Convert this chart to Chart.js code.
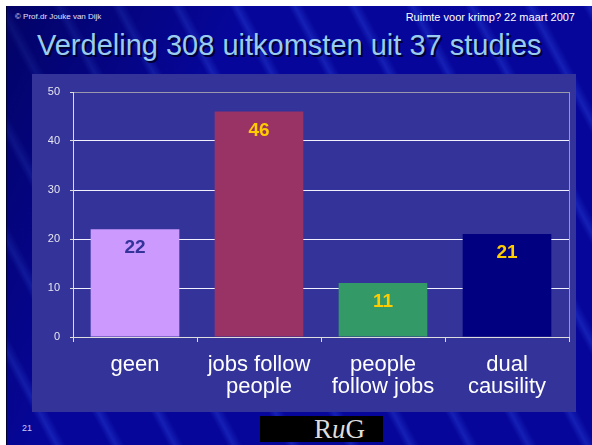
<!DOCTYPE html>
<html lang="nl">
<head>
    <meta charset="UTF-8">
    <title>Verdeling 308 uitkomsten uit 37 studies</title>
    <script src="https://cdn.jsdelivr.net/npm/chart.js"></script>
    <style>
        html, body {
            margin: 0;
            padding: 0;
            background: #ffffff;
            width: 592px;
            height: 445px;
            overflow: hidden;
        }
        .slide {
            position: absolute;
            left: 6px;
            top: 6px;
            width: 586px;
            height: 439px;
            border-left: 1px solid #000033;
            background-color: #06069a;
            background-image:
                linear-gradient(115deg, rgba(0,0,60,0.55) 0%, rgba(0,0,60,0) 30%),
                repeating-linear-gradient(62deg, rgba(40,60,220,0) 0px, rgba(40,60,220,0) 38px, rgba(50,80,230,0.35) 44px, rgba(40,60,220,0) 52px);
            font-family: Arial, "Liberation Sans", sans-serif;
            overflow: hidden;
        }
        .copy {
            position: absolute;
            left: 8px;
            top: 6px;
            font-size: 8px;
            color: #e0e0ff;
        }
        .event {
            position: absolute;
            right: 18px;
            top: 5px;
            font-size: 11px;
            color: #ffffff;
        }
        h1 {
            position: absolute;
            left: 30px;
            top: 23px;
            margin: 0;
            font-weight: normal;
            font-size: 29px;
            color: #99ccee;
            text-shadow: 2px 2px 0 #000033;
            white-space: nowrap;
        }
        .panel {
            position: absolute;
            left: 25px;
            top: 68px;
            width: 544px;
            height: 338px;
            background: #333399;
        }
        .page {
            position: absolute;
            left: 15px;
            top: 417px;
            font-size: 9px;
            color: #ccccff;
        }
        .rug {
            position: absolute;
            left: 253px;
            top: 410px;
            width: 123px;
            height: 26px;
            background: #000000;
            color: #dddddd;
            font-family: "Liberation Serif", "DejaVu Serif", serif;
            font-size: 27px;
            line-height: 27px;
            text-indent: 54px;
        }
    </style>
</head>
<body>
    <div class="slide">
        <div class="copy">© Prof.dr Jouke van Dijk</div>
        <div class="event">Ruimte voor krimp? 22 maart 2007</div>
        <h1>Verdeling 308 uitkomsten uit 37 studies</h1>
        <div class="panel">
            <canvas id="chart" width="544" height="338"></canvas>
        </div>
        <div class="page">21</div>
        <div class="rug">R<i>u</i>G</div>
    </div>

    <script>
        const categories = ['geen', ['jobs follow', 'people'], ['people', 'follow jobs'], ['dual', 'causility']];
        const counts = [22, 46, 11, 21];
        const yTicks = [0, 10, 20, 30, 40, 50];

        const barColors = ['#cc99ff', '#993366', '#339966', '#000080'];
        const valueColors = ['#333399', '#ffcc00', '#ffcc00', '#ffcc00'];

        // draws the number inside the top of each bar
        const valueLabels = {
            id: 'valueLabels',
            afterDatasetsDraw(chart) {
                const ctx = chart.ctx;
                const meta = chart.getDatasetMeta(0);
                ctx.save();
                ctx.font = 'bold 19px Arial, "Liberation Sans", sans-serif';
                ctx.textAlign = 'center';
                ctx.textBaseline = 'middle';
                meta.data.forEach((bar, i) => {
                    ctx.fillStyle = valueColors[i];
                    ctx.fillText(String(counts[i]), bar.x, bar.y + 19);
                });
                ctx.restore();
            }
        };

        const chart = new Chart(document.getElementById('chart').getContext('2d'), {
            type: 'bar',
            data: {
                labels: categories,
                datasets: [{
                    data: counts,
                    backgroundColor: barColors,
                    borderWidth: 0,
                    barPercentage: 0.715,
                    categoryPercentage: 1
                }]
            },
            plugins: [valueLabels],
            options: {
                responsive: false,
                animation: false,
                layout: { padding: { top: 18, right: 7, left: 0, bottom: 0 } },
                plugins: {
                    legend: { display: false },
                    tooltip: { enabled: false }
                },
                scales: {
                    x: {
                        offset: true,
                        afterFit: s => { s.height = 75; },
                        grid: {
                            offset: true,
                            color: c => c.type === 'scale' ? '#9999aa' : 'rgba(0,0,0,0)',
                            tickColor: '#dddddd',
                            tickLength: 5
                        },
                        border: { color: '#dddddd', width: 1 },
                        ticks: {
                            color: '#ffffff',
                            padding: 12,
                            maxRotation: 0,
                            font: { family: 'Arial, "Liberation Sans", sans-serif', size: 22, lineHeight: 1.0 }
                        }
                    },
                    y: {
                        min: 0,
                        max: 50,
                        afterFit: s => { s.width = 41; },
                        afterBuildTicks: s => { s.ticks = yTicks.map(v => ({ value: v })); },
                        grid: {
                            color: c => c.tick && c.tick.value === 50 ? '#9999aa' : '#f0f0ff',
                            tickColor: '#dddddd',
                            tickLength: 3
                        },
                        border: { color: '#dddddd', width: 1 },
                        ticks: {
                            color: '#e6e6f0',
                            padding: 10,
                            font: { family: 'Arial, "Liberation Sans", sans-serif', size: 11 }
                        }
                    }
                }
            }
        });
    </script>
</body>
</html>
